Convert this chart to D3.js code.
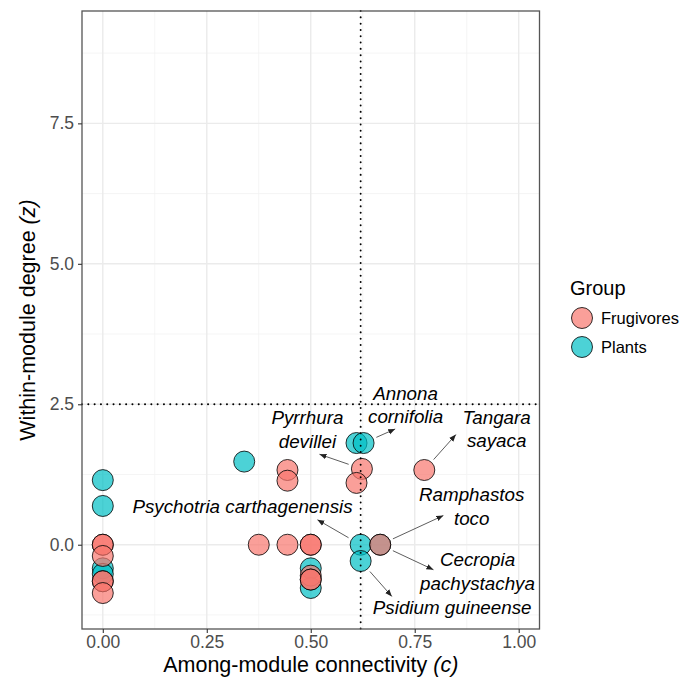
<!DOCTYPE html>
<html>
<head>
<meta charset="utf-8">
<script src="https://cdn.jsdelivr.net/npm/d3@7"></script>
<style>
  html, body { margin: 0; padding: 0; background: #fff; }
  text { font-family: "Liberation Sans", Arial, Helvetica, sans-serif; }
</style>
</head>
<body>
<svg id="chart" width="683" height="681"></svg>
<script>
// ---------------- DATA ----------------
const groups = ["Frugivores", "Plants"];
const groupColors = ["#F8766D", "#00BFC4"];

// Plants (drawn first)
const plantC = [0, 0, 0, 0, 0.34, 0.5, 0.5, 0.61, 0.627, 0.62, 0.667, 0.62];
const plantZ = [1.15, 0.69, -0.42, -0.52, 1.48, -0.42, -0.77, 1.81, 1.81, 0.0, 0.0, -0.29];

// Frugivores (drawn on top)
const frugC = [0, 0, 0, 0, 0, 0, 0.375, 0.444, 0.5, 0.5, 0.5, 0.5, 0.5, 0.444, 0.444, 0.623, 0.61, 0.773, 0.667];
const frugZ = [0, 0, -0.2, -0.65, -0.65, -0.86, 0, 0, 0, 0, -0.55, -0.62, -0.62, 1.33, 1.14, 1.35, 1.10, 1.33, 0.0];

const xTicks = [0, 0.25, 0.5, 0.75, 1.0];
const xTickLabels = ["0.00", "0.25", "0.50", "0.75", "1.00"];
const yTicks = [0, 2.5, 5.0, 7.5];
const yTickLabels = ["0.0", "2.5", "5.0", "7.5"];
const xMinor = [0.125, 0.375, 0.625, 0.875];
const yMinor = [-1.25, 1.25, 3.75, 6.25, 8.75];

const cThreshold = 0.62;
const zThreshold = 2.5;

// Species labels: text lines, label centre (data units), source point, arrow tip (data units)
const labelLines = [
  ["Pyrrhura", "devillei"],
  ["Annona", "cornifolia"],
  ["Tangara", "sayaca"],
  ["Ramphastos", "toco"],
  ["Cecropia", "pachystachya"],
  ["Psidium guineense"],
  ["Psychotria carthagenensis"]
];
const labelC = [0.492, 0.728, 0.947, 0.887, 0.901, 0.84, 0.336];
const labelZ = [2.05, 2.49, 2.06, 0.68, -0.48, -1.12, 0.68];
const srcC = [0.623, 0.627, 0.773, 0.667, 0.667, 0.62, 0.62];
const srcZ = [1.35, 1.81, 1.33, 0.0, 0.0, -0.29, 0.0];
const tipC = [0.521, 0.703, 0.849, 0.819, 0.795, 0.695, 0.516];
const tipZ = [1.61, 2.06, 1.96, 0.52, -0.445, -0.92, 0.445];

// ---------------- LAYOUT ----------------
const panel = { left: 82, right: 539.5, top: 11, bottom: 629 };
const svg = d3.select("#chart");

const x = d3.scaleLinear().domain([-0.05, 1.05]).range([panel.left, panel.right]);
const y = d3.scaleLinear().domain([-1.5, 9.5]).range([panel.bottom, panel.top]);

const R = 10.5;
const alpha = 0.7;

// background
svg.append("rect").attr("x", panel.left).attr("y", panel.top)
  .attr("width", panel.right - panel.left).attr("height", panel.bottom - panel.top)
  .attr("fill", "#fff");

// grid
const grid = svg.append("g");
grid.selectAll(".xminor").data(xMinor).join("line")
  .attr("x1", d => x(d)).attr("x2", d => x(d)).attr("y1", panel.top).attr("y2", panel.bottom)
  .attr("stroke", "#f2f2f2").attr("stroke-width", 0.8);
grid.selectAll(".yminor").data(yMinor).join("line")
  .attr("y1", d => y(d)).attr("y2", d => y(d)).attr("x1", panel.left).attr("x2", panel.right)
  .attr("stroke", "#f2f2f2").attr("stroke-width", 0.8);
grid.selectAll(".xmajor").data(xTicks).join("line")
  .attr("x1", d => x(d)).attr("x2", d => x(d)).attr("y1", panel.top).attr("y2", panel.bottom)
  .attr("stroke", "#ebebeb").attr("stroke-width", 1.4);
grid.selectAll(".ymajor").data(yTicks).join("line")
  .attr("y1", d => y(d)).attr("y2", d => y(d)).attr("x1", panel.left).attr("x2", panel.right)
  .attr("stroke", "#ebebeb").attr("stroke-width", 1.4);

// points
function drawPoints(cs, zs, color) {
  svg.append("g").selectAll("circle").data(cs.map((c, i) => [c, zs[i]])).join("circle")
    .attr("cx", d => x(d[0])).attr("cy", d => y(d[1])).attr("r", R)
    .attr("fill", color).attr("fill-opacity", alpha)
    .attr("stroke", "#000").attr("stroke-opacity", 0.8).attr("stroke-width", 1);
}
drawPoints(plantC, plantZ, groupColors[1]);
drawPoints(frugC, frugZ, groupColors[0]);

// reference lines (dotted)
svg.append("line").attr("x1", x(cThreshold)).attr("x2", x(cThreshold))
  .attr("y1", panel.top).attr("y2", panel.bottom)
  .attr("stroke", "#000").attr("stroke-width", 1.9)
  .attr("stroke-dasharray", "0.1,6.2").attr("stroke-linecap", "round");
svg.append("line").attr("y1", y(zThreshold)).attr("y2", y(zThreshold))
  .attr("x1", panel.left).attr("x2", panel.right)
  .attr("stroke", "#000").attr("stroke-width", 1.9)
  .attr("stroke-dasharray", "0.1,6.2").attr("stroke-linecap", "round");

// arrows
const defs = svg.append("defs");
defs.append("marker").attr("id", "arrow").attr("viewBox", "0 0 10 10")
  .attr("refX", 10).attr("refY", 5).attr("markerWidth", 7).attr("markerHeight", 7)
  .attr("markerUnits", "userSpaceOnUse").attr("orient", "auto")
  .append("path").attr("d", "M0,1 L10,5 L0,9 Z").attr("fill", "#222");

const ann = svg.append("g");
labelLines.forEach((lines, i) => {
  const sx = x(srcC[i]), sy = y(srcZ[i]);
  const tx = x(tipC[i]), ty = y(tipZ[i]);
  const dx = tx - sx, dy = ty - sy, len = Math.hypot(dx, dy);
  const off = R + 3.5;
  ann.append("line")
    .attr("x1", sx + dx / len * off).attr("y1", sy + dy / len * off)
    .attr("x2", tx).attr("y2", ty)
    .attr("stroke", "#333").attr("stroke-width", 0.8)
    .attr("marker-end", "url(#arrow)");
  const lh = 23.5;
  const cy = y(labelZ[i]);
  lines.forEach((t, j) => {
    ann.append("text")
      .attr("x", x(labelC[i]))
      .attr("y", cy + (j - (lines.length - 1) / 2) * lh)
      .attr("text-anchor", "middle").attr("dominant-baseline", "central")
      .attr("font-style", "italic").attr("font-size", 18.8).attr("fill", "#000")
      .text(t);
  });
});

// panel border
svg.append("rect").attr("x", panel.left).attr("y", panel.top)
  .attr("width", panel.right - panel.left).attr("height", panel.bottom - panel.top)
  .attr("fill", "none").attr("stroke", "#555").attr("stroke-width", 1.3);

// axes
const xAxis = d3.axisBottom(x).tickValues(xTicks).tickFormat((d, i) => xTickLabels[i])
  .tickSize(4).tickPadding(3);
const gx = svg.append("g").attr("transform", `translate(0,${panel.bottom})`).call(xAxis);
gx.select(".domain").remove();
gx.selectAll(".tick line").attr("stroke", "#333").attr("stroke-width", 1.1);
gx.selectAll(".tick text").attr("fill", "#4d4d4d").attr("font-size", 17.5)
  .attr("font-family", "Liberation Sans, Arial, sans-serif");

const yAxis = d3.axisLeft(y).tickValues(yTicks).tickFormat((d, i) => yTickLabels[i])
  .tickSize(4).tickPadding(4);
const gy = svg.append("g").attr("transform", `translate(${panel.left},0)`).call(yAxis);
gy.select(".domain").remove();
gy.selectAll(".tick line").attr("stroke", "#333").attr("stroke-width", 1.1);
gy.selectAll(".tick text").attr("fill", "#4d4d4d").attr("font-size", 17.5)
  .attr("font-family", "Liberation Sans, Arial, sans-serif");

// axis titles
const xt = svg.append("text")
  .attr("x", (panel.left + panel.right) / 2).attr("y", 672)
  .attr("text-anchor", "middle").attr("font-size", 21.5).attr("fill", "#000");
xt.append("tspan").text("Among-module connectivity ");
xt.append("tspan").attr("font-style", "italic").text("(c)");

const yt = svg.append("text")
  .attr("transform", `translate(35,${(panel.top + panel.bottom) / 2}) rotate(-90)`)
  .attr("text-anchor", "middle").attr("font-size", 21.5).attr("fill", "#000");
yt.append("tspan").text("Within-module degree ");
yt.append("tspan").attr("font-style", "italic").text("(z)");

// legend
const lg = svg.append("g");
lg.append("text").attr("x", 570).attr("y", 288).attr("dominant-baseline", "central")
  .attr("font-size", 20).attr("fill", "#000").text("Group");
groups.forEach((g, i) => {
  const cy = 318 + i * 29;
  lg.append("circle").attr("cx", 582).attr("cy", cy).attr("r", R)
    .attr("fill", groupColors[i]).attr("fill-opacity", alpha)
    .attr("stroke", "#000").attr("stroke-opacity", 0.8).attr("stroke-width", 1);
  lg.append("text").attr("x", 601).attr("y", cy).attr("dominant-baseline", "central")
    .attr("font-size", 16.5).attr("fill", "#000").text(g);
});
</script>
</body>
</html>
